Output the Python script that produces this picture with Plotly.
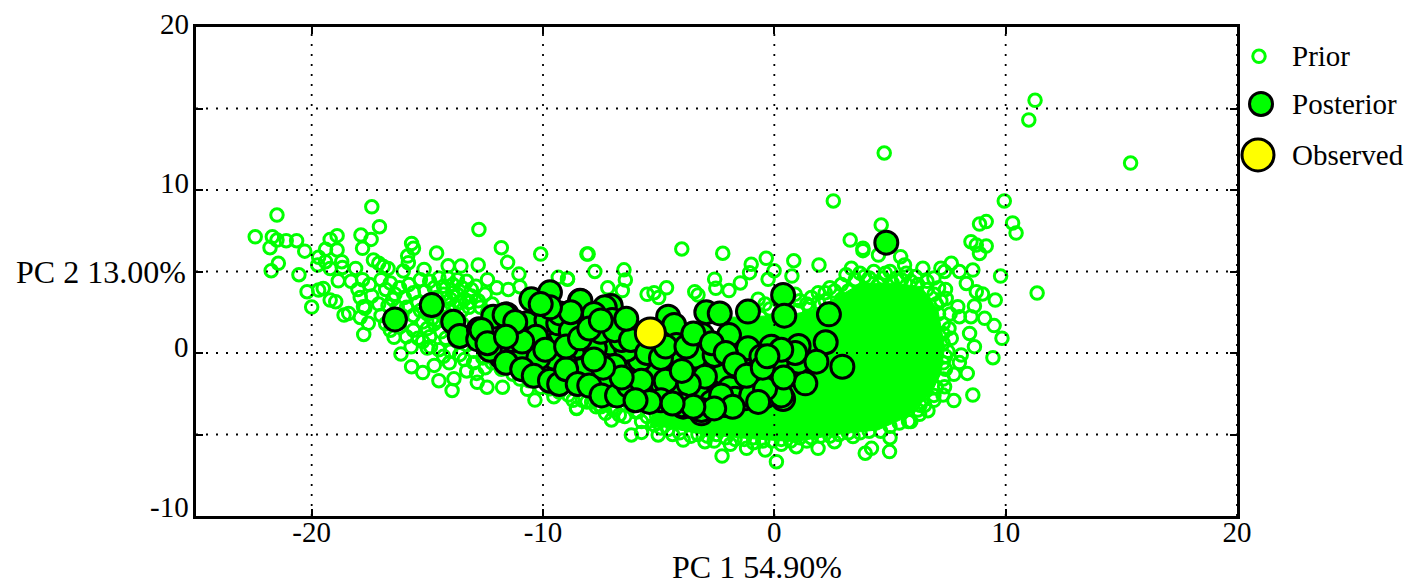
import plotly.graph_objects as go

# Values (PC 1, PC 2)
prior_far = [(11.27,15.5),(11.0,14.3),(15.4,11.65),(4.75,12.27),(2.55,9.33),(9.94,9.33),(10.3,7.98),(10.45,7.36),(11.36,3.68),
 (4.62,7.85),(8.87,7.91),(9.16,8.06),(3.28,6.93),(3.83,6.42),(3.83,6.28),(4.5,6.01),(8.5,6.83),(8.73,6.63),(9.16,6.56),(8.87,6.11)]
prior_left = [(-22.44,7.13),(-21.5,8.46),(-17.4,8.97),(-17.07,7.75),(-21.7,7.13),(-21.8,6.46),(-21.5,6.93),(-21.1,6.89),(-20.65,6.89),
 (-20.3,6.25),(-19.2,6.97),(-18.9,7.2),(-19.4,6.36),(-18.9,6.32),(-19.7,5.87),(-19.74,5.4),(-19.4,5.6),(-18.7,5.6),(-18.67,5.25),
 (-19.2,5.19),(-21.44,5.5),(-21.75,5.05),(-20.55,4.8),(-20.2,3.76),(-19.7,3.86),(-19.5,3.96),(-20,2.82),(-19.2,3.25),(-18.96,3.15),
 (-18.85,4.43),(-18.1,5.19),(-17.87,7.24),(-17.43,6.97),(-17.8,6.42),(-17.33,5.7),(-17.1,5.5),(-16.9,5.3),(-16.7,5.19),(-15.68,6.72),
 (-15.6,6.42),(-15.85,5.95),(-15.82,5.54),(-16.04,5.03),(-15.14,5.13),(-14.6,6.13),(-14.1,5.35),(-13.55,5.33),(-12.8,5.4),(-12.77,7.58),
 (-11.8,6.46),(-11.53,5.56),(-11.04,4.84),(-10.1,6.07),(-8.1,6.07),(-8.94,4.56),(-9.34,4.64),(-12,4),(-11,4.07),
 (-18.6,2.33),(-18.4,2.43),(-17.76,2.84),(-17.7,2.74),(-17.9,2.18),(-17.55,1.82),(-17.75,1.14),(-16.44,0.96),(-16.14,-0.06),(-15.7,0.38),
 (-14.86,0.38),(-15.68,-0.84),(-15.2,-1.2),(-14.7,-0.76),(-14.5,-1.7),(-13.85,-1.58),(-13.93,-2.3),(-14.05,-0.6),(-13.3,-1.1),(-12.87,-1.25),
 (-12.84,-1.8),(-12.42,-2.1),(-11.75,-2.1),(-10.67,-2.23),(-10.35,-2.89),(-8.55,-3.38),(-9.53,-2.68),(-8.9,-2.58)]
prior_band = [(-18.3,4.4),(-18.0,3.9),(-17.8,4.5),(-17.5,4.2),(-17.9,3.4),(-17.4,3.5),(-17.0,4.5),(-16.8,3.9),(-16.6,4.3),(-16.4,3.6),
 (-17.1,3.0),(-16.7,2.9),(-16.2,4.0),(-16.0,3.4),(-15.8,4.2),(-15.6,3.7),(-15.4,3.1),(-15.9,2.8),(-16.1,2.3),(-15.6,2.3),(-15.3,4.5),
 (-15.1,3.8),(-14.9,4.4),(-14.7,4.0),(-14.5,4.6),(-14.3,4.1),(-14.1,4.6),(-13.9,4.2),(-13.7,4.5),(-13.5,4.0),(-13.3,4.4),(-13.1,3.9),
 (-14.6,3.4),(-14.3,3.6),(-14.0,3.3),(-13.7,3.6),(-13.4,3.3),(-13.1,3.5),(-12.8,3.2),(-12.5,3.6),(-12.2,3.0),(-14.7,2.8),(-14.4,2.6),
 (-14.1,2.7),(-13.8,2.9),(-13.5,2.6),(-13.2,2.8),(-15.2,1.9),(-15.0,1.5),(-14.7,1.8),(-15.6,1.4),(-15.4,0.9),(-14.9,1.0),(-14.4,1.3),
 (-14.2,0.9),(-13.7,0.7),(-13.3,0.5),(-13.6,-0.1),(-13.0,0.1),(-12.6,-0.3),(-12.2,-0.6),(-11.8,-1.0),(-12.5,-0.9),(-11.3,-1.3),
 (-11.0,-1.6),(-10.6,-1.7),(-10.1,-2.1),(-9.7,-2.2),(-9.3,-2.4),(-8.7,-2.9),(-8.1,-3.0),(-7.7,-3.3),(-7.3,-3.7),(-12.4,4.5),(-11.5,3.9),
 (-13.9,3.7),(-13.6,3.1),(-13.2,3.1),(-12.9,4.1),(-12.7,2.8),(-12.4,2.5),(-15.3,2.6),(-15.0,2.4),(-14.8,2.1),(-14.5,2.0),(-14.2,2.2),
 (-13.9,1.8),(-13.5,1.8),(-13.1,1.2),(-16.3,2.8),(-16.5,3.3),(-17.0,2.3),(-16.8,1.8),(-16.6,1.4),(-16.2,1.6),(-15.9,1.0),(-15.2,0.7),
 (-15.0,0.3),(-14.5,0.2),(-14.0,0.1),(-13.4,-0.4),(-13.0,-0.6),(-14.3,-0.2)]
prior_lower = [(-8.05,6.07),(-7.76,5.0),(-6.5,5.1),(-6.44,4.48),(-6.57,3.83),(-8.94,4.52),(-4.0,6.38),(-2.23,6.12),(-4.66,4.0),(-2.58,4.52),
 (-2.53,3.97),(-1.96,3.83),(-3.44,3.76),(-3.3,3.56),(-1.0,5.44),(-1.07,4.93),(-1.47,4.3),(-0.35,5.81),(-0.01,5.05),(-0.27,4.52),(0.84,5.66),
 (0.76,4.72),(1.93,5.4),(3.33,5.2),(3.1,4.8),(-5.5,3.6),(-5.2,3.7),(-5.0,3.4),(-7.2,4.0),(-6.9,3.2),(-0.7,3.3),(-0.4,3.0),(0.9,3.6),
 (1.6,3.4),(1.9,3.7),(2.2,3.2),(2.4,4.0),(-6.18,-5.03),(-5.74,-4.87),(-5.74,-4.21),(-7.04,-4.11),(-6.46,-3.9),(-8.55,-3.4),(-7.54,-3.19),
 (-5.02,-5.03),(-4.6,-4.7),(-3.94,-5.34),(-3.0,-5.44),(-2.26,-6.32),(-1.2,-5.85),(-0.39,-5.95),(0.09,-6.67),(0.95,-5.75),(1.89,-5.85),
 (2.6,-5.44),(3.4,-5.13),(3.93,-6.15),(4.2,-5.85),(4.98,-6.05),(-2.6,-5.4),(-1.9,-5.6),(-0.9,-5.5),(0.3,-5.6),(1.4,-5.4),(-6.9,-3.5),(-6.0,-3.6),
 (-7.9,-3.0),(-7.5,-3.3),(-7.0,-3.4),(-6.7,-3.8),(-6.2,-3.3),(-5.9,-3.6),(-5.5,-3.9),(-5.1,-3.8),(-8.3,-2.9),(-7.2,-3.0)]
prior_right = [(5.46,5.91),(5.63,5.4),(6.42,5.2),(7.2,5.2),(7.65,5.5),(7.36,5.0),(8.58,5.09),(8.0,5.0),(9.78,4.72),(8.3,4.27),(8.73,3.76),
 (9.0,3.62),(7.43,3.35),(7.93,2.84),(8.65,2.88),(9.55,3.25),(8.5,2.23),(8.0,2.23),(9.09,2.13),(9.5,1.68),(9.84,0.9),(8.44,1.2),(8.65,0.39),
 (7.65,0.9),(9.45,-0.29),(8.08,-0.12),(8.0,-0.59),(7.76,-1.31),(8.34,-1.25),(7.36,-2.07),(7.29,-2.58),(7.76,-2.92),(8.58,-2.58),(6.64,-3.54),
 (6.28,-3.76),(5.0,-5.2),(5.9,-4.2),(6.9,4.6),(6.6,4.4),(6.1,4.7),(5.7,4.9),(5.3,4.6),(5.0,5.0),(4.7,4.6),(4.3,5.0),(3.9,4.7),(7.1,4.0),
 (7.4,3.9),(7.2,3.2),(7.6,2.4),(7.3,1.8),(7.55,1.5),(7.3,0.6),(7.5,0.1),(7.3,-0.6),(7.4,-1.0),(6.9,-2.6),(6.5,-3.2)]
prior_edge = [(-5.2,-4.4),(-4.9,-4.6),(-4.4,-5.0),(-4.1,-4.9),(-3.6,-5.1),(-3.3,-5.0),(-2.9,-5.1),(-2.5,-5.0),(-2.1,-5.2),(-1.7,-5.3),
 (-1.3,-5.3),(-0.9,-5.2),(-0.5,-5.4),(-0.1,-5.4),(0.3,-5.3),(0.7,-5.4),(1.1,-5.2),(1.6,-5.2),(2.0,-5.1),(2.4,-5.1),(2.8,-5.0),(3.2,-4.9),
 (3.7,-4.9),(4.1,-4.8),(4.6,-4.8),(5.0,-4.5),(5.4,-4.3),(5.8,-4.2),(6.2,-3.5),(1.0,2.6),(1.4,3.0),(0.6,3.0),(0.2,3.2),(1.1,3.2),(1.5,2.9),
 (1.9,3.1),(2.2,3.7),(2.6,3.8),(2.9,4.2),(3.2,3.8),(3.5,4.5),(3.7,4.9),(4.1,4.6),(4.5,4.2),(4.8,4.9),(5.1,4.3),(5.5,4.5),(5.9,4.4),(6.2,4.2),
 (6.6,3.9),(6.9,3.6),(7.0,3.0),(7.1,2.4),(7.3,1.2),(7.4,-0.2),(7.3,-1.6),(7.0,-2.1),(6.9,-2.9),(6.3,-3.2),(-0.2,2.7),(-0.6,2.2),(0.2,2.3),(2.9,3.3)]

prior_core_x = [-2.2,-1.14,0.88,1.74,2.75,3.76,5.2,6.35,7.07,7.36,7.2,6.78,5.77,4.48,3.04,0.88,-1.28,-3.15,-4.88,-5.4,-5.17,-3.44,-2.6]
prior_core_y = [2.2,2.2,2.4,2.64,3.46,4.27,4.27,4.07,2.64,0.39,-1.25,-2.47,-3.9,-4.72,-4.93,-5.44,-5.23,-4.98,-4.51,-4.6,-3.5,-2.07,0.0]

posterior = [(4.84,6.77),(-16.4,2.06),(-14.81,2.94),(-13.88,1.92),(-13.6,1.04),(-12.77,1.45),(-12.8,0.84),(-12.15,2.23),(-11.57,2.37),
 (-11.57,0.38),(-10.7,0.02),(-10.5,3.29),(-9.7,3.72),(-8.4,3.2),(-8.84,1.37),(-9.4,0.59),(-9.9,-1.09),(-8.98,-1.56),(-8.1,-0.43),(-10.7,1.82),
 (-9.85,2.02),(-9.34,1.82),(-11.8,-0.23),(-10.64,-0.84),(-10.1,0.59),(-11.0,-0.43),(-9.27,2.43),(-8.5,1.82),(-8.05,0.79),(-8.62,-0.84),
 (-8.2,-1.66),(-8.38,3.19),(-7.07,2.88),(-7.33,2.8),(-7.01,2.03),(-8.8,1.35),(-7.08,0.59),(-8.05,-0.43),(-4.59,2.23),(-4.33,1.72),(-2.94,2.5),
 (-2.36,2.43),(-1.14,2.54),(0.38,3.56),(0.43,2.29),(2.36,2.37),(2.22,0.66),(2.94,-0.84),(-1.96,1.1),(-3.12,1.1),(-4.23,0.49),(-4.3,-0.53),
 (-3.41,-0.22),(-5.63,-1.55),(-6.82,-2.58),(-4.3,-2.68),(-3.94,-3.29),(-3.15,-3.7),(-2.12,-3.19),(-2.29,-2.47),(-3.33,-2.51),(-2.17,-1.25),
 (-1.24,-0.47),(-0.24,-1.35),(-1.0,-2.0),(0.71,-1.31),(0.38,-2.82),(1.34,-1.86),(1.05,-0.53),(1.05,0.43),(-0.13,0.39),(1.82,-0.53),(-0.42,-2.68),
 (-1.28,-2.78),(-2.58,-0.12),(-1.14,0.29),(-0.56,-0.22),(-5.02,-1.14),(-5.1,-2.47),(-6.1,-0.43),(-6.46,-1.25),(-5.82,-0.43),(-5.74,-2.47),
 (-7.9,-1.45),(-8.9,-1.66),(-7.6,-2.27),(-8.34,-1.04),(-3.0,-1.45),(-1.93,-2.17),(-8.55,0.39),(-7.76,0.29),(-9.06,-0.63),(-11.66,2.33),
 (-12.66,1.41),(-11.2,1.4),(-10.3,1.0),(-7.5,1.3),(-6.4,0.2),(-6.9,-0.8),(-7.2,-1.7),(-6.0,-1.9),(-4.7,-1.7),(-3.7,-1.9),(-4.0,-1.1),(-2.7,-3.0),
 (-1.7,-2.8),(-0.8,-1.2),(0.1,-0.6),(-9.5,-0.3),(-10.2,-0.3),
 (-12.3,0.2),(-11.6,-0.6),(-11.3,0.8),(-10.9,-1.0),(-10.4,-1.4),(-9.7,-1.7),(-9.3,-1.9),(-9.0,-1.0),(-8.5,-1.9),(-8.0,-2.0),(-7.47,-2.6),
 (-6.8,-2.6),(-6.3,-2.0),(-5.75,-1.7),(-4.9,-2.9),(-4.0,-3.2),(-3.15,-3.5),(-2.3,-2.6),(-1.0,-2.6),(0.3,-2.6),(-0.4,-2.2),(-0.7,-3.0),
 (-1.8,-3.3),(-2.6,-3.4),(-3.5,-3.3),(-4.4,-3.1),(-5.4,-3.0),(-6.0,-2.9),(-6.6,-1.5),(-7.4,-0.9),(-7.8,-0.4),(-6.6,0.8),(-6.9,1.4),(-6.2,0.8),
 (-5.5,0.0),(-4.9,-0.3),(-4.7,0.4),(-3.8,0.4),(-3.5,1.2),(-2.7,0.6),(-2.1,0.0),(-1.7,-0.7),(-1.2,-1.4),(-0.5,-0.9),(0.4,-1.5),(0.9,0.0),(0.3,0.2),
 (-0.3,-0.2),(-9.9,0.2),(-9.0,0.4),(-8.4,0.9),(-8.8,2.5),(-9.7,2.8),(-10.1,3.0),(-7.8,2.4),(-8.0,1.5),(-7.5,2.0),(-6.4,2.1),(-10.9,0.7),(-11.2,1.9),
 (-12.4,0.6),(-11.6,1.0)]
observed = [(-5.36, 1.23)]

x_grid_values = [-20, -10, 0, 10, 20]
y_grid_values = [-5, 0, 5, 10, 15]
x_tick_labels = ["-20", "-10", "0", "10", "20"]
y_tick_values = [20, 10, 0, -10]
y_tick_labels = ["20", "10", "0", "-10"]
y_tick_shift = [3, 7, 6, 9]
legend_names = ["Prior", "Posterior", "Observed"]
legend_key_x = [22, 24, 21]   # within the hidden side-panel axis
legend_y = [18.2, 15.28, 12.15]

GREEN, YELLOW, BLACK = "#00ff00", "#ffff00", "#000000"
FONT = "Liberation Serif"
XR, YR = [-25, 20], [-10, 20]
W, H = 1407, 586
L = 196
PLOT_W = 1196   # drawable width that Plotly leaves once its right-hand margin push is applied
MAIN_W = 1041
R_PANEL = PLOT_W - MAIN_W
SPLIT = MAIN_W / PLOT_W

prior = prior_far + prior_left + prior_band + prior_lower + prior_right + prior_edge
fig = go.Figure()
fig.add_trace(go.Scatter(x=prior_core_x, y=prior_core_y, mode="lines", fill="toself", fillcolor=GREEN,
                         line=dict(color=GREEN, width=1), hoverinfo="skip"))
fig.add_trace(go.Scatter(x=[p[0] for p in prior], y=[p[1] for p in prior], mode="markers",
                         marker=dict(size=12.5, color="rgba(0,0,0,0)", line=dict(color=GREEN, width=3))))
grid = dict(color=BLACK, width=1.8, dash="2px,8px")
for v in x_grid_values:
    fig.add_trace(go.Scatter(x=[v, v], y=YR, mode="lines", line=grid, hoverinfo="skip"))
for v in y_grid_values:
    fig.add_trace(go.Scatter(x=XR, y=[v, v], mode="lines", line=grid, hoverinfo="skip"))
fig.add_trace(go.Scatter(x=[p[0] for p in posterior], y=[p[1] for p in posterior], mode="markers",
                         marker=dict(size=23, color=GREEN, line=dict(color=BLACK, width=3))))
fig.add_trace(go.Scatter(x=[p[0] for p in observed], y=[p[1] for p in observed], mode="markers",
                         marker=dict(size=30, color=YELLOW, line=dict(color=BLACK, width=3))))
# Legend keys, on a hidden axis that fills the panel to the right of the plot
leg_style = [dict(size=12.5, color="rgba(0,0,0,0)", line=dict(color=GREEN, width=3)),
             dict(size=23, color=GREEN, line=dict(color=BLACK, width=3)),
             dict(size=32, color=YELLOW, line=dict(color=BLACK, width=3))]
for x, y, m in zip(legend_key_x, legend_y, leg_style):
    fig.add_trace(go.Scatter(x=[x], y=[y], xaxis="x2", yaxis="y", mode="markers", marker=m))

ann = []
for v, t, s in zip(y_tick_values, y_tick_labels, y_tick_shift):
    ann.append(dict(x=0, xref="paper", xanchor="right", xshift=-5, y=v, yref="y", yshift=s, text=t, showarrow=False,
                    font=dict(family=FONT, size=29, color=BLACK)))
ann.append(dict(x=0, xref="paper", xanchor="right", xshift=-8, y=5, yref="y", text="PC 2 13.00%", showarrow=False,
                font=dict(family=FONT, size=32, color=BLACK)))
ann.append(dict(x=-0.73, xref="x", xanchor="center", y=0, yref="paper", yanchor="middle", yshift=-51, text="PC 1 54.90%",
                showarrow=False, font=dict(family=FONT, size=32, color=BLACK)))
for n, y in zip(legend_names, legend_y):
    ann.append(dict(x=53, xref="x2", xanchor="left", y=y, yref="y", text=n, showarrow=False,
                    font=dict(family=FONT, size=29, color=BLACK)))

fig.update_layout(width=W, height=H, margin=dict(l=L, r=0, t=27, b=70, pad=0), showlegend=False,
                  paper_bgcolor="white", plot_bgcolor="white", annotations=ann,
                  xaxis=dict(domain=[0, SPLIT]),
                  xaxis2=dict(domain=[SPLIT, 1], range=[0, R_PANEL], visible=False, anchor="y"))
fig.layout.xaxis.update(range=XR, tickmode="array", tickvals=x_grid_values, ticktext=x_tick_labels, showgrid=False, zeroline=False,
                 ticks="inside", ticklen=7, tickwidth=1.6, tickcolor=BLACK, mirror="ticks", showline=True, linecolor=BLACK, linewidth=2.7,
                 tickfont=dict(family=FONT, size=29, color=BLACK), ticklabelstandoff=-12)
fig.layout.yaxis.update(range=YR, tickmode="array", tickvals=y_grid_values, showticklabels=False, showgrid=False, zeroline=False,
                 ticks="inside", ticklen=7, tickwidth=1.6, tickcolor=BLACK, mirror="ticks", showline=True, linecolor=BLACK, linewidth=2.7)
fig.write_html("out.html", config=dict(displayModeBar=False),
               post_script="document.body.style.margin='0';document.documentElement.style.overflow='hidden';")
